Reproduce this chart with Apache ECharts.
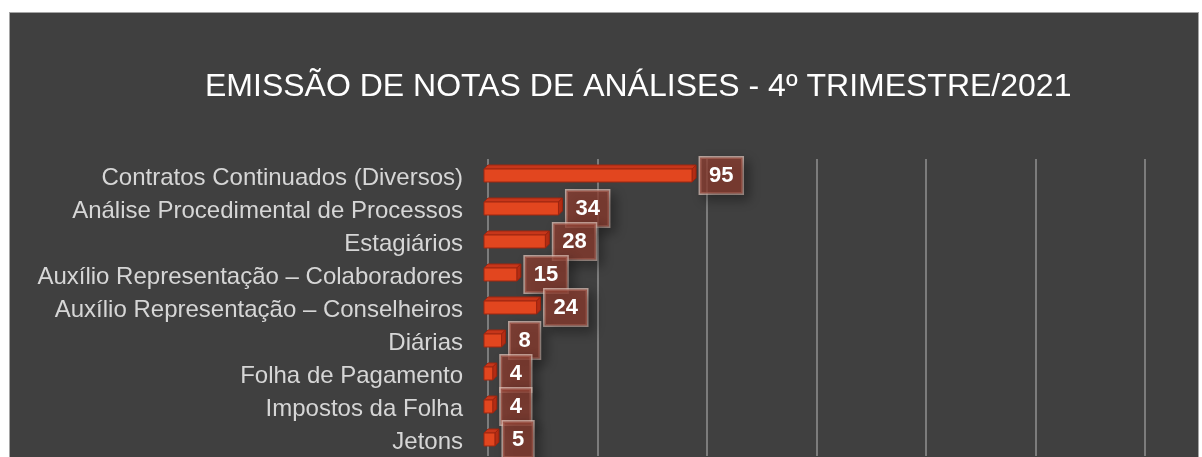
<!DOCTYPE html>
<html>
<head>
<meta charset="utf-8">
<script src="https://cdn.jsdelivr.net/npm/echarts@6/dist/echarts.min.js"></script>
<style>
  html, body { margin: 0; padding: 0; background: #ffffff; overflow: hidden; }
  #caixa {
    position: absolute; left: 9px; top: 12px; width: 1188px; height: 460px;
    background: #404040; border: 1px solid #a5a5a5;
  }
  #main { position: absolute; left: 0; top: 0; width: 1202px; height: 457px; }
</style>
</head>
<body>
<div id="caixa"></div>
<div id="main"></div>
<script>
// categorias e valores (4º trimestre/2021)
var categorias = [
    'Contratos Continuados (Diversos)',
    'Análise Procedimental de Processos',
    'Estagiários',
    'Auxílio Representação – Colaboradores',
    'Auxílio Representação – Conselheiros',
    'Diárias',
    'Folha de Pagamento',
    'Impostos da Folha',
    'Jetons'
];
var valores = [95, 34, 28, 15, 24, 8, 4, 4, 5];
var eixoMax = 300;
var eixoPasso = 50;

// barra "3D" desenhada pela escala do eixo
function barra3d (params, api) {
    var v = api.value(0);
    var idx = api.value(1);
    var ini = api.coord([0, idx]);
    var fim = api.coord([v, idx]);
    var h = 13, d = 4;
    var x0 = ini[0] - d, x1 = fim[0] - d;
    var y0 = ini[1] - h / 2, y1 = y0 + h;
    var borda = '#9e2611';
    return {
        type: 'group',
        children: [
            {
                type: 'polygon',
                shape: { points: [[x0, y0], [x1, y0], [x1 + d, y0 - d], [x0 + d, y0 - d]] },
                style: { fill: '#c7361a', stroke: borda, lineWidth: 1 }
            },
            {
                type: 'polygon',
                shape: { points: [[x1, y0], [x1 + d, y0 - d], [x1 + d, y1 - d], [x1, y1]] },
                style: { fill: '#b82e15', stroke: borda, lineWidth: 1 }
            },
            {
                type: 'rect',
                shape: { x: x0, y: y0, width: x1 - x0, height: h },
                style: { fill: '#e2461f', stroke: borda, lineWidth: 1 }
            },
            {
                type: 'text',
                style: {
                    text: String(v),
                    x: fim[0] + 4,
                    y: fim[1],
                    align: 'left',
                    verticalAlign: 'middle',
                    fill: '#ffffff',
                    font: 'bold 22px "Liberation Sans", Arial, sans-serif',
                    lineHeight: 22,
                    padding: [7, 9],
                    backgroundColor: 'rgba(145,62,48,0.72)',
                    borderColor: 'rgba(235,205,195,0.7)',
                    borderWidth: 1.5,
                    shadowColor: 'rgba(0,0,0,0.45)',
                    shadowBlur: 12,
                    shadowOffsetX: 5,
                    shadowOffsetY: 5
                }
            }
        ]
    };
}

var myChart = echarts.init(document.getElementById('main'));
var option = {
    animation: false,
    title: {
        text: 'EMISSÃO DE NOTAS DE ANÁLISES - 4º TRIMESTRE/2021',
        left: 200,
        top: 66,
        textStyle: {
            color: '#ffffff',
            fontFamily: '"Liberation Sans", Arial, sans-serif',
            fontWeight: 'normal',
            fontSize: 32
        }
    },
    grid: {
        left: 488,
        right: 57,
        top: 159,
        height: 297
    },
    xAxis: {
        type: 'value',
        min: 0,
        max: eixoMax,
        interval: eixoPasso,
        axisLabel: { show: false },
        axisLine: { show: false },
        axisTick: { show: false },
        splitLine: { lineStyle: { color: '#7c7c7c', width: 2 } }
    },
    yAxis: {
        type: 'category',
        inverse: true,
        data: categorias,
        axisLine: { show: false },
        axisTick: { show: false },
        axisLabel: {
            margin: 25,
            formatter: '{t|{value}}',
            rich: {
                t: {
                    color: '#d6d6d6',
                    fontSize: 24,
                    fontFamily: '"Liberation Sans", Arial, sans-serif',
                    padding: [6, 0, 0, 0]
                }
            }
        }
    },
    series: [
        {
            type: 'custom',
            renderItem: barra3d,
            encode: { x: 0, y: 1 },
            data: valores.map(function (v, i) { return [v, i]; })
        }
    ]
};
myChart.setOption(option);
</script>
</body>
</html>
